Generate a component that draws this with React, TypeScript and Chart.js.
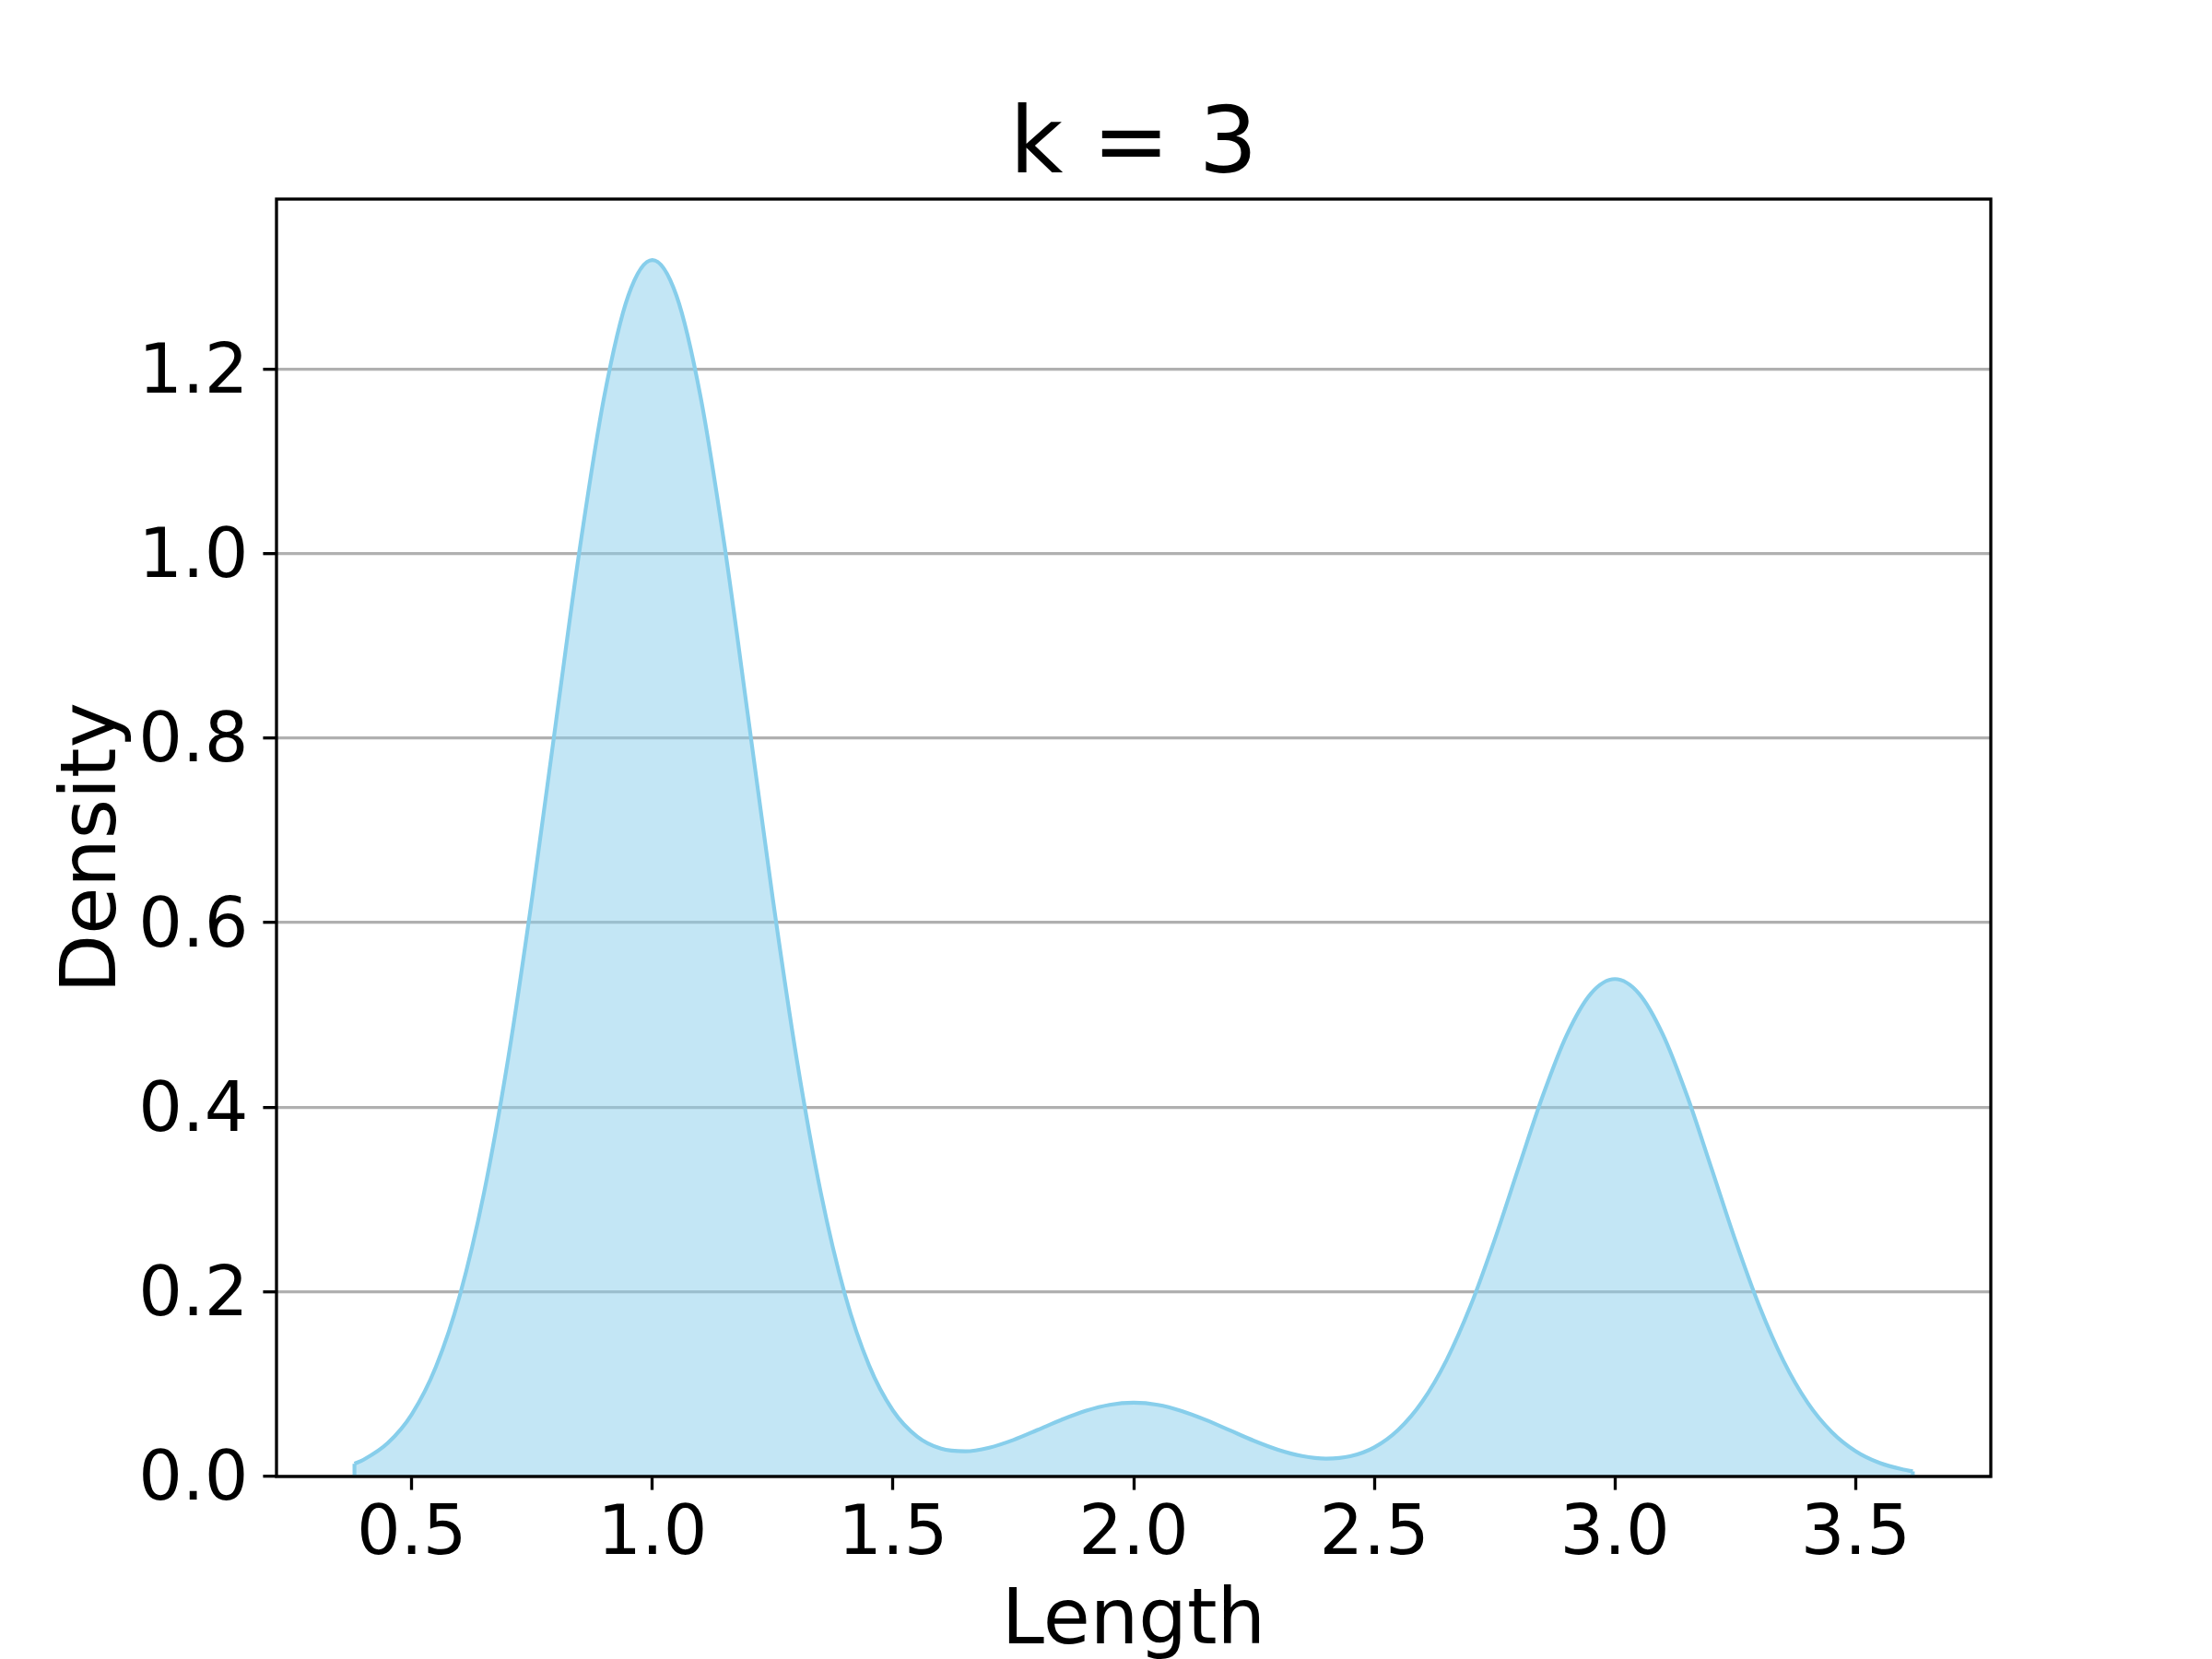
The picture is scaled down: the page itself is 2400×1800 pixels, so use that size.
import React, { useEffect, useRef } from "react";
import { Chart, registerables } from "chart.js";

Chart.register(...registerables);

// ---- data ----
const lengthValues = [
  0.381, 0.4, 0.45, 0.5, 0.55, 0.6, 0.65, 0.7, 0.75, 0.8, 0.85, 0.9, 0.95, 1.0,
  1.05, 1.1, 1.15, 1.2, 1.25, 1.3, 1.35, 1.4, 1.45, 1.5, 1.55, 1.6, 1.65, 1.7,
  1.75, 1.8, 1.85, 1.9, 1.95, 2.0, 2.05, 2.1, 2.15, 2.2, 2.25, 2.3, 2.35, 2.4,
  2.45, 2.5, 2.55, 2.6, 2.65, 2.7, 2.75, 2.8, 2.85, 2.9, 2.95, 3.0, 3.05, 3.1,
  3.15, 3.2, 3.25, 3.3, 3.35, 3.4, 3.45, 3.5, 3.55, 3.6, 3.619,
];
const densityValues = [
  0.0138, 0.0182, 0.0361, 0.0673, 0.1185, 0.1964, 0.3069, 0.4517, 0.6266, 0.8189,
  1.0084, 1.1702, 1.2794, 1.318, 1.2794, 1.1702, 1.0084, 0.8189, 0.6267, 0.452,
  0.3074, 0.1975, 0.1207, 0.0714, 0.0433, 0.0301, 0.0273, 0.0313, 0.0396, 0.0504,
  0.0614, 0.0711, 0.0777, 0.08, 0.0777, 0.071, 0.0613, 0.05, 0.0387, 0.029,
  0.0222, 0.0194, 0.0219, 0.0316, 0.0507, 0.0814, 0.126, 0.1849, 0.2563, 0.3349,
  0.4124, 0.4785, 0.5232, 0.539, 0.5232, 0.4785, 0.4124, 0.3349, 0.2562, 0.1847,
  0.1255, 0.0803, 0.0485, 0.0275, 0.0147, 0.0074, 0.0056,
];
const xTicks = [0.5, 1.0, 1.5, 2.0, 2.5, 3.0, 3.5];
const yTicks = [0.0, 0.2, 0.4, 0.6, 0.8, 1.0, 1.2];
const xRange = [0.219, 3.781];
const yRange = [0, 1.384];
const titleText = "k = 3";
const xLabel = "Length";
const yLabel = "Density";

const FONT = "'DejaVu Sans', 'Liberation Sans', sans-serif";
const LINE_COLOR = "#87ceeb";
const FILL_COLOR = "rgba(135,206,235,0.5)";
const PT = 300 / 72;

const framePlugin = {
  id: "frame",
  beforeDraw(chart: any) {
    const { ctx, width, height } = chart;
    ctx.save();
    ctx.fillStyle = "#ffffff";
    ctx.fillRect(0, 0, width, height);
    ctx.restore();
  },
  afterDatasetsDraw(chart: any) {
    const { ctx, chartArea: a } = chart;
    ctx.save();
    ctx.strokeStyle = "#000000";
    ctx.lineWidth = 0.8 * PT;
    ctx.strokeRect(a.left, a.top, a.right - a.left, a.bottom - a.top);
    ctx.restore();
  },
  afterDraw(chart: any) {
    // y-axis label, rotated, baseline on its right side
    const { ctx, chartArea: a } = chart;
    ctx.save();
    ctx.translate(125, (a.top + a.bottom) / 2 + 11);
    ctx.rotate(-Math.PI / 2);
    ctx.font = `83px ${FONT}`;
    ctx.fillStyle = "#000000";
    ctx.textAlign = "center";
    ctx.textBaseline = "alphabetic";
    ctx.fillText(yLabel, 0, 0);
    ctx.restore();
  },
};

export default function App() {
  const ref = useRef<HTMLCanvasElement | null>(null);

  useEffect(() => {
    document.body.style.margin = "0";
    const canvas = ref.current;
    if (!canvas) return;
    const points = lengthValues.map((x, i) => ({ x, y: densityValues[i] }));
    const n = lengthValues.length;
    const leftEdge = [
      { x: lengthValues[0], y: 0 },
      { x: lengthValues[0], y: densityValues[0] },
    ];
    const rightEdge = [
      { x: lengthValues[n - 1], y: densityValues[n - 1] },
      { x: lengthValues[n - 1], y: 0 },
    ];
    const edgeStyle = {
      borderColor: LINE_COLOR,
      borderWidth: 1 * PT,
      pointRadius: 0,
      fill: false,
      tension: 0,
    };

    const chart = new Chart(canvas, {
      type: "line",
      data: {
        datasets: [
          {
            label: "kde",
            data: points,
            borderColor: LINE_COLOR,
            backgroundColor: FILL_COLOR,
            borderWidth: 1 * PT,
            pointRadius: 0,
            fill: "origin",
            cubicInterpolationMode: "monotone",
          },
          { label: "edgeL", data: leftEdge, ...edgeStyle },
          { label: "edgeR", data: rightEdge, ...edgeStyle },
        ],
      },
      options: {
        responsive: false,
        animation: false,
        devicePixelRatio: 1,
        layout: { padding: { left: 0, right: 240, top: 0, bottom: 0 } },
        plugins: {
          legend: { display: false },
          tooltip: { enabled: false },
          title: {
            display: true,
            text: titleText,
            fullSize: false,
            color: "#000000",
            font: { family: FONT, size: 100, weight: "normal", lineHeight: 1 },
            padding: { top: 111, bottom: 5 },
          },
        },
        scales: {
          x: {
            type: "linear",
            min: xRange[0],
            max: xRange[1],
            afterBuildTicks: (axis: any) => {
              axis.ticks = xTicks.map((value) => ({ value }));
            },
            afterFit: (scale: any) => {
              scale.height = 198;
            },
            ticks: {
              color: "#000000",
              font: { family: FONT, size: 75, lineHeight: 1 },
              padding: 12,
              maxRotation: 0,
              autoSkip: false,
              callback: (v: any) => Number(v).toFixed(1),
            },
            grid: {
              drawOnChartArea: false,
              drawTicks: true,
              tickLength: 3.5 * PT,
              tickColor: "#000000",
              tickWidth: 0.8 * PT,
            },
            border: { display: false },
            title: {
              display: true,
              text: xLabel,
              color: "#000000",
              font: { family: FONT, size: 83, lineHeight: 0.8 },
              padding: { top: 0, bottom: 5 },
            },
          },
          y: {
            type: "linear",
            min: yRange[0],
            max: yRange[1],
            afterBuildTicks: (axis: any) => {
              axis.ticks = yTicks.map((value) => ({ value }));
            },
            afterFit: (scale: any) => {
              scale.width = 300;
            },
            ticks: {
              color: "#000000",
              font: { family: FONT, size: 75, lineHeight: 1 },
              padding: 16,
              labelOffset: 6,
              autoSkip: false,
              callback: (v: any) => Number(v).toFixed(1),
            },
            grid: {
              color: "#b0b0b0",
              lineWidth: 0.8 * PT,
              drawOnChartArea: true,
              drawTicks: true,
              tickLength: 3.5 * PT,
              tickColor: "#000000",
              tickWidth: 0.8 * PT,
            },
            border: { display: false },
            title: { display: false, text: yLabel },
          },
        },
      },
      plugins: [framePlugin],
    } as any);

    return () => chart.destroy();
  }, []);

  return (
    <div style={{ position: "absolute", left: 0, top: 0, width: 2400, height: 1800 }}>
      <canvas ref={ref} width={2400} height={1800} style={{ display: "block", width: 2400, height: 1800 }} />
    </div>
  );
}
